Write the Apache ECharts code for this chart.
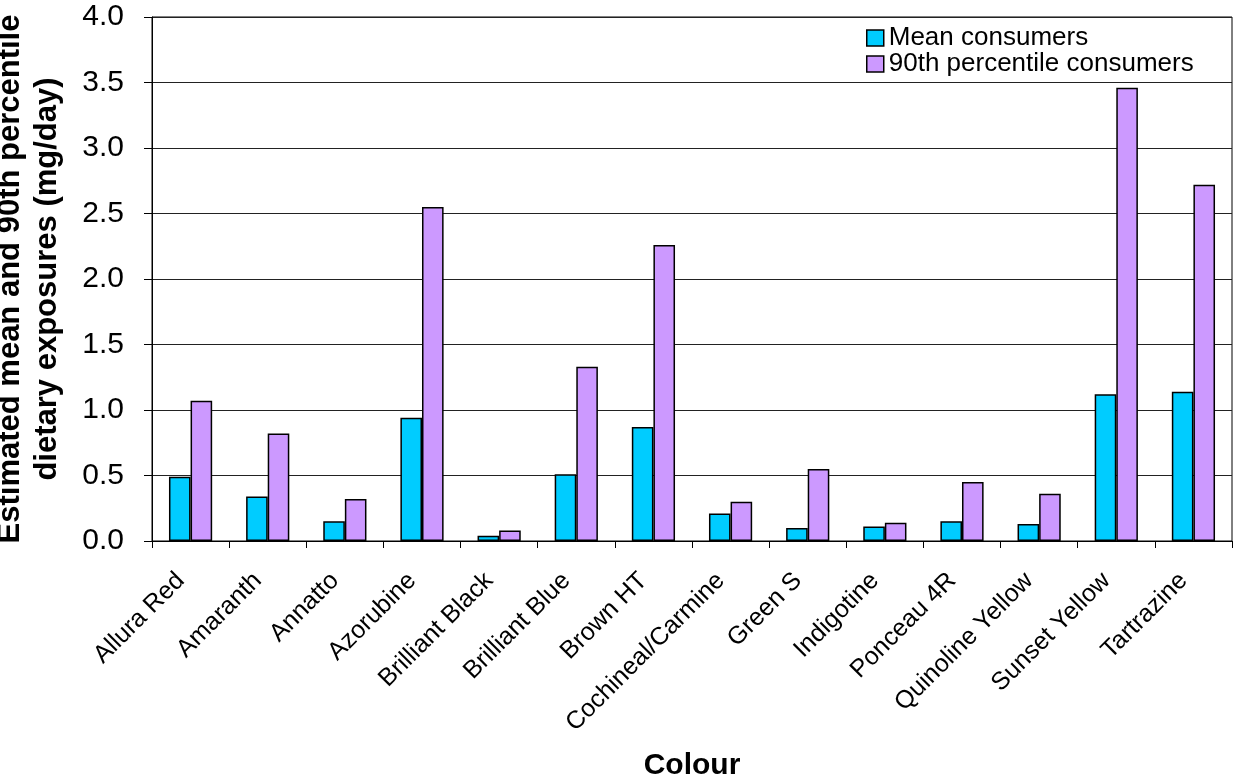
<!DOCTYPE html>
<html><head><meta charset="utf-8">
<script src="https://cdn.jsdelivr.net/npm/echarts@6/dist/echarts.min.js"></script>
<style>html,body{margin:0;padding:0;background:#fff}#c{width:1239px;height:783px}</style>
</head><body><div id="c"></div>
<script>
const categories = ["Allura Red","Amaranth","Annatto","Azorubine","Brilliant Black","Brilliant Blue","Brown HT","Cochineal/Carmine","Green S","Indigotine","Ponceau 4R","Quinoline Yellow","Sunset Yellow","Tartrazine"];
const meanConsumers = [0.49,0.34,0.15,0.94,0.04,0.51,0.87,0.21,0.10,0.11,0.15,0.13,1.12,1.14];
const p90Consumers = [1.07,0.82,0.32,2.55,0.08,1.33,2.26,0.30,0.55,0.14,0.45,0.36,3.46,2.72];
const seriesNames = ["Mean consumers","90th percentile consumers"];
const yTicks = {min:0,max:4,interval:0.5};

const F = '"Liberation Sans", Arial, sans-serif';
const chart = echarts.init(document.getElementById('c'), null, {renderer:'canvas'});
chart.setOption({
  animation:false,
  backgroundColor:'#fff',
  textStyle:{fontFamily:F},
  grid:{left:152,right:7,top:17,bottom:242,containLabel:false,outerBoundsMode:'none',
        show:true,borderColor:'#000',borderWidth:1,backgroundColor:'transparent'},
  legend:{
    orient:'vertical',left:866,top:25,itemWidth:17,itemHeight:16,itemGap:0,icon:'rect',
    backgroundColor:'#fff',padding:[0,0,0,0],
    textStyle:{fontFamily:F,fontSize:26,color:'#000',lineHeight:25},
    data:seriesNames.map(n=>({name:n,itemStyle:{borderColor:'#000',borderWidth:1.5}}))
  },
  xAxis:{
    type:'category',data:categories,
    name:'Colour',nameLocation:'middle',nameGap:210,
    nameTextStyle:{fontFamily:F,fontSize:30,fontWeight:'bold',color:'#000'},
    axisLine:{lineStyle:{color:'#000',width:1}},
    axisTick:{show:true,length:7,lineStyle:{color:'#000'}},
    axisLabel:{rotate:45,fontFamily:F,fontSize:25,color:'#000',margin:26,interval:0,padding:[0,14,0,0]}
  },
  yAxis:{
    type:'value',min:yTicks.min,max:yTicks.max,interval:yTicks.interval,
    name:'Estimated mean and 90th percentile\ndietary exposures (mg/day)',
    nameLocation:'middle',nameGap:86,
    nameTextStyle:{fontFamily:F,fontSize:31,fontWeight:'bold',color:'#000',lineHeight:37},
    axisLine:{show:true,lineStyle:{color:'#000',width:1}},
    axisTick:{show:true,length:8,lineStyle:{color:'#000'}},
    axisLabel:{fontFamily:F,fontSize:30,color:'#000',margin:28,formatter:v=>v.toFixed(1)},
    splitLine:{show:true,lineStyle:{color:'#222',width:1}}
  },
  series:[
    {name:seriesNames[0],type:'bar',data:meanConsumers,barGap:'0%',barCategoryGap:'44%',
     itemStyle:{color:'#00CCFF',borderColor:'#000',borderWidth:1.5}},
    {name:seriesNames[1],type:'bar',data:p90Consumers,barGap:'0%',barCategoryGap:'44%',
     itemStyle:{color:'#CC99FF',borderColor:'#000',borderWidth:1.5}}
  ]
});
</script></body></html>
